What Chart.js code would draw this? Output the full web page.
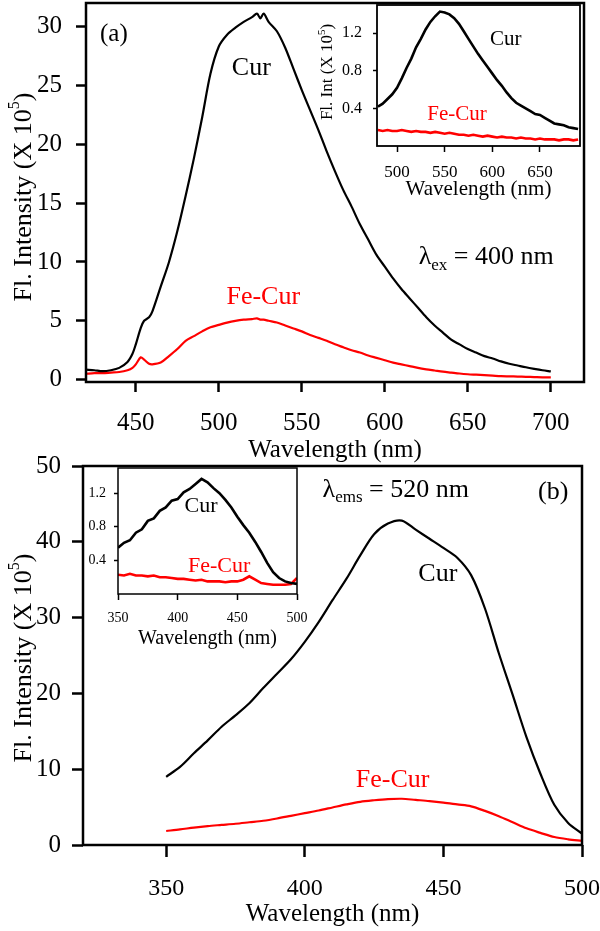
<!DOCTYPE html>
<html>
<head>
<meta charset="utf-8">
<script src="https://cdn.jsdelivr.net/npm/chart.js@4.4.1/dist/chart.umd.min.js"></script>
<style>
  body { margin: 0; background: #fff; }
  #page { position: relative; width: 600px; height: 931px; overflow: hidden; }
  .box { position: absolute; }
  canvas { display: block; }
</style>
</head>
<body>
<div id="page">
  <div class="box" style="left:0;top:0"><canvas id="chartA" width="600" height="465"></canvas></div>
  <div class="box" style="left:300px;top:0"><canvas id="insetA" width="290" height="205"></canvas></div>
  <div class="box" style="left:0;top:436px"><canvas id="chartB" width="600" height="495"></canvas></div>
  <div class="box" style="left:60px;top:460px"><canvas id="insetB" width="250" height="195"></canvas></div>
</div>
<script>
// Panel (a): emission, excitation 400 nm
const aWl = [420, 425, 430, 435, 440, 445, 448, 450, 453, 455, 458, 460,
  465, 470, 475, 480, 485, 490, 495, 500, 505, 510, 515, 520, 523, 525, 527,
  530, 535, 540, 545, 550, 555, 560, 565, 570, 575, 580, 585, 590, 595, 600,
  605, 610, 615, 620, 625, 630, 635, 640, 645, 650, 655, 660, 665, 670, 675,
  680, 685, 690, 695, 700];
const aCur = [0.85, 0.8, 0.72, 0.8, 1.0, 1.5, 2.2, 3.0, 4.4, 5.0, 5.3, 5.8,
  7.9, 10.0, 12.6, 15.6, 18.8, 22.3, 26.0, 28.3, 29.3, 29.9, 30.4, 30.8, 31.1, 30.7, 31.1,
  30.4, 29.6, 28.2, 26.4, 24.6, 22.9, 21.2, 19.4, 17.7, 16.1, 14.7, 13.2, 11.9, 10.6, 9.6,
  8.6, 7.7, 6.9, 6.1, 5.3, 4.6, 4.0, 3.4, 3.0, 2.6, 2.3, 2.0, 1.8, 1.55, 1.35,
  1.2, 1.05, 0.92, 0.8, 0.7];
const aFeCur = [0.5, 0.55, 0.55, 0.6, 0.65, 0.8, 1.0, 1.3, 1.9, 1.7, 1.35, 1.3,
  1.45, 2.0, 2.6, 3.3, 3.7, 4.1, 4.45, 4.65, 4.85, 5.0, 5.1, 5.15, 5.2, 5.1, 5.1,
  5.0, 4.85, 4.6, 4.35, 4.1, 3.8, 3.55, 3.3, 3.0, 2.75, 2.5, 2.3, 2.05, 1.85, 1.65,
  1.45, 1.3, 1.15, 1.0, 0.88, 0.78, 0.68, 0.6, 0.52, 0.46, 0.42, 0.38, 0.34, 0.3, 0.28,
  0.26, 0.24, 0.22, 0.2, 0.2];
const aTicksX = [450, 500, 550, 600, 650, 700];
const aTicksY = [0, 5, 10, 15, 20, 25, 30];

// Inset (a)
const iaWl = [480, 485, 490, 495, 500, 505, 510, 515, 520, 525, 530, 535, 540, 545,
  550, 555, 560, 565, 570, 575, 580, 585, 590, 595, 600, 605, 610, 615, 620, 625,
  630, 635, 640, 645, 650, 655, 660, 665, 670, 675, 680, 685, 690];
const iaCur = [0.42, 0.45, 0.50, 0.55, 0.62, 0.72, 0.83, 0.93, 1.05, 1.14, 1.24, 1.32, 1.38, 1.43,
  1.42, 1.40, 1.36, 1.30, 1.22, 1.14, 1.06, 0.98, 0.91, 0.84, 0.77, 0.70, 0.64, 0.57, 0.51, 0.46,
  0.43, 0.40, 0.37, 0.34, 0.33, 0.30, 0.27, 0.24, 0.23, 0.22, 0.20, 0.19, 0.18];
const iaFeCur = [0.17, 0.16, 0.17, 0.16, 0.16, 0.17, 0.16, 0.15, 0.16, 0.15, 0.15, 0.14, 0.15, 0.14,
  0.13, 0.14, 0.13, 0.12, 0.12, 0.11, 0.12, 0.11, 0.10, 0.11, 0.10, 0.09, 0.10, 0.09, 0.09, 0.08,
  0.09, 0.08, 0.08, 0.07, 0.08, 0.07, 0.07, 0.07, 0.06, 0.07, 0.07, 0.06, 0.07];
const iaTicksX = [500, 550, 600, 650];
const iaTicksY = [0.4, 0.8, 1.2];

// Panel (b): excitation, emission 520 nm
const bWl = [350, 355, 360, 365, 370, 375, 380, 385, 390, 395, 400, 405, 410, 415, 420,
  425, 430, 435, 440, 445, 450, 455, 460, 465, 470, 475, 480, 485, 490, 495, 500];
const bCur = [9.0, 10.3, 12.1, 13.8, 15.6, 17.1, 18.7, 20.7, 22.6, 24.5, 26.8, 29.4, 32.3, 35.1, 38.2,
  41.0, 42.4, 42.8, 41.6, 40.4, 39.2, 37.9, 35.6, 31.2, 25.3, 19.8, 14.2, 9.4, 5.3, 2.9, 1.5];
const bFeCur = [1.85, 2.05, 2.3, 2.5, 2.65, 2.8, 3.0, 3.2, 3.5, 3.85, 4.2, 4.55, 4.95, 5.35, 5.7,
  5.9, 6.05, 6.1, 5.95, 5.8, 5.6, 5.35, 5.1, 4.5, 3.8, 3.0, 2.2, 1.6, 1.05, 0.75, 0.55];
const bTicksX = [350, 400, 450, 500];
const bTicksY = [0, 10, 20, 30, 40, 50];

// Inset (b)
const ibWl = bWl;
const ibCur = [0.55, 0.61, 0.64, 0.73, 0.77, 0.87, 0.90, 0.99, 1.03, 1.11, 1.13, 1.21, 1.25, 1.31, 1.37,
  1.33, 1.26, 1.20, 1.12, 1.03, 0.92, 0.82, 0.73, 0.62, 0.50, 0.37, 0.26, 0.19, 0.15, 0.13, 0.12];
const ibFeCur = [0.23, 0.22, 0.24, 0.22, 0.22, 0.21, 0.22, 0.20, 0.20, 0.19, 0.18, 0.18, 0.17, 0.16, 0.17,
  0.15, 0.15, 0.15, 0.14, 0.15, 0.15, 0.17, 0.21, 0.17, 0.13, 0.12, 0.11, 0.11, 0.11, 0.12, 0.19];
const ibTicksX = [350, 400, 450, 500];
const ibTicksY = [0.4, 0.8, 1.2];

const FONT = '"Liberation Serif", "Times New Roman", serif';
const RED = '#ff0000';
Chart.defaults.font.family = FONT;
Chart.defaults.color = '#000';

function xy(xs, ys) {
  return xs.map((x, i) => ({ x: x, y: ys[i] }));
}

// text with sub/superscripts, drawn on the canvas
function drawRich(ctx, parts, x, y, align, color, rotate) {
  ctx.save();
  ctx.translate(x, y);
  if (rotate) ctx.rotate(-Math.PI / 2);
  ctx.fillStyle = color;
  ctx.textBaseline = 'middle';
  ctx.textAlign = 'left';
  let total = 0;
  parts.forEach(p => {
    ctx.font = p.size + 'px ' + FONT;
    total += ctx.measureText(p.text).width;
  });
  let cx = align === 'center' ? -total / 2 : 0;
  parts.forEach(p => {
    ctx.font = p.size + 'px ' + FONT;
    ctx.fillText(p.text, cx, p.dy || 0);
    cx += ctx.measureText(p.text).width;
  });
  ctx.restore();
}

// frame around the plot area, y title and labels
const decor = {
  id: 'decor',
  afterDraw(chart, args, opts) {
    const { ctx, chartArea: a, scales } = chart;
    ctx.save();
    ctx.lineWidth = opts.frame;
    ctx.strokeStyle = '#000';
    ctx.strokeRect(a.left, a.top, a.right - a.left, a.bottom - a.top);
    ctx.restore();
    if (opts.yTitle) {
      const t = opts.yTitle;
      drawRich(ctx, t.parts, t.x, t.y, 'center', '#000', true);
    }
    (opts.notes || []).forEach(n => {
      drawRich(ctx, n.parts, scales.x.getPixelForValue(n.x), scales.y.getPixelForValue(n.y),
        n.align || 'center', n.color || '#000', false);
    });
  }
};

function axis(o) {
  return {
    type: 'linear',
    min: o.min,
    max: o.max,
    afterBuildTicks: s => { s.ticks = o.ticks.map(v => ({ value: v })); },
    afterFit: s => {
      if (s.isHorizontal()) s.height = o.size; else s.width = o.size;
      s.paddingLeft = s.paddingRight = s.paddingTop = s.paddingBottom = 0;
    },
    border: { display: false },
    grid: { drawOnChartArea: false, drawTicks: true, tickLength: o.tickLength, tickWidth: o.tickWidth, tickColor: '#000' },
    ticks: {
      autoSkip: false, maxRotation: 0, padding: o.pad,
      font: { size: o.font }, color: '#000',
      callback: o.fmt || (v => String(v))
    },
    title: o.title ? {
      display: true, text: o.title, color: '#000',
      font: { size: o.titleSize }, padding: { top: 0, bottom: o.titlePad }
    } : { display: false }
  };
}

function line(data, color, width, tension) {
  return { data: data, borderColor: color, borderWidth: width, pointRadius: 0, fill: false, tension: tension || 0 };
}

function makeChart(id, cfg) {
  return new Chart(document.getElementById(id), {
    type: 'line',
    data: { datasets: cfg.datasets },
    options: {
      responsive: false,
      animation: false,
      devicePixelRatio: 1,
      layout: { padding: cfg.padding },
      plugins: { legend: { display: false }, tooltip: { enabled: false }, decor: cfg.decor },
      scales: { x: axis(cfg.x), y: axis(cfg.y) }
    },
    plugins: [decor]
  });
}

const yTitleMain = [
  { text: 'Fl. Intensity (X 10', size: 26 },
  { text: '5', size: 16, dy: -9 },
  { text: ')', size: 26 }
];

// Panel (a)
makeChart('chartA', {
  padding: { left: 0, top: 3, right: 16, bottom: 0 },
  datasets: [line(xy(aWl, aCur), '#000', 2.2, 0.3), line(xy(aWl, aFeCur), RED, 2.2, 0.3)],
  x: { min: 420, max: 720, ticks: aTicksX, size: 83, tickLength: 10, tickWidth: 2.5, pad: 16, font: 25,
       title: 'Wavelength (nm)', titleSize: 25, titlePad: 0 },
  y: { min: -0.2, max: 32, ticks: aTicksY, size: 86, tickLength: 10, tickWidth: 2.5, pad: 14, font: 25 },
  decor: {
    frame: 2.5,
    yTitle: { x: 24, y: 197, parts: yTitleMain },
    notes: [
      { x: 436.8, y: 29.3, parts: [{ text: '(a)', size: 25 }] },
      { x: 519.6, y: 26.5, parts: [{ text: 'Cur', size: 26 }] },
      { x: 526.8, y: 7.0, color: RED, parts: [{ text: 'Fe-Cur', size: 26 }] },
      { x: 620.4, y: 10.4, align: 'left', parts: [
        { text: 'λ', size: 26 }, { text: 'ex', size: 17, dy: 8 }, { text: ' = 400 nm', size: 26 }] }
    ]
  }
});

// Inset (a)
makeChart('insetA', {
  padding: { left: 0, top: 5, right: 10, bottom: 0 },
  datasets: [line(xy(iaWl, iaCur), '#000', 2.6), line(xy(iaWl, iaFeCur), RED, 2.6)],
  x: { min: 479, max: 692, ticks: iaTicksX, size: 59, tickLength: 6, tickWidth: 1.5, pad: 10, font: 17,
       title: 'Wavelength (nm)', titleSize: 21, titlePad: 3 },
  y: { min: 0, max: 1.5, ticks: iaTicksY, size: 77, tickLength: 4, tickWidth: 1.5, pad: 11, font: 16,
       fmt: v => v.toFixed(1) },
  decor: {
    frame: 1.8,
    yTitle: { x: 28, y: 72, parts: [
      { text: 'Fl. Int (X 10', size: 17 }, { text: '5', size: 11, dy: -6 }, { text: ')', size: 17 }] },
    notes: [
      { x: 614, y: 1.13, parts: [{ text: 'Cur', size: 21 }] },
      { x: 563, y: 0.33, color: RED, parts: [{ text: 'Fe-Cur', size: 21 }] }
    ]
  }
});

// Panel (b)
makeChart('chartB', {
  padding: { left: 0, top: 30, right: 18, bottom: 0 },
  datasets: [line(xy(bWl, bCur), '#000', 2.2, 0.3), line(xy(bWl, bFeCur), RED, 2.2, 0.3)],
  x: { min: 320, max: 500, ticks: bTicksX, size: 86, tickLength: 12, tickWidth: 2.5, pad: 17, font: 24,
       title: 'Wavelength (nm)', titleSize: 25, titlePad: 1.5 },
  y: { min: 0, max: 50, ticks: bTicksY, size: 83, tickLength: 11, tickWidth: 2.5, pad: 11, font: 25 },
  decor: {
    frame: 2.5,
    yTitle: { x: 24, y: 222, parts: yTitleMain },
    notes: [
      { x: 406.4, y: 46.8, align: 'left', parts: [
        { text: 'λ', size: 26 }, { text: 'ems', size: 17, dy: 7 }, { text: ' = 520 nm', size: 26 }] },
      { x: 489.6, y: 46.5, parts: [{ text: '(b)', size: 26 }] },
      { x: 448, y: 35.75, parts: [{ text: 'Cur', size: 26 }] },
      { x: 431.7, y: 8.6, color: RED, parts: [{ text: 'Fe-Cur', size: 26 }] }
    ]
  }
});

// Inset (b)
makeChart('insetB', {
  padding: { left: 0, top: 8, right: 13, bottom: 0 },
  datasets: [line(xy(ibWl, ibCur), '#000', 2.6), line(xy(ibWl, ibFeCur), RED, 2.6)],
  x: { min: 350, max: 500, ticks: ibTicksX, size: 61, tickLength: 6, tickWidth: 1.5, pad: 10, font: 14,
       title: 'Wavelength (nm)', titleSize: 20, titlePad: 4 },
  y: { min: 0, max: 1.5, ticks: ibTicksY, size: 58, tickLength: 4, tickWidth: 1.5, pad: 8, font: 14,
       fmt: v => v.toFixed(1) },
  decor: {
    frame: 1.5,
    notes: [
      { x: 419.6, y: 1.04, parts: [{ text: 'Cur', size: 22 }] },
      { x: 434.7, y: 0.33, color: RED, parts: [{ text: 'Fe-Cur', size: 22 }] }
    ]
  }
});
</script>
</body>
</html>
